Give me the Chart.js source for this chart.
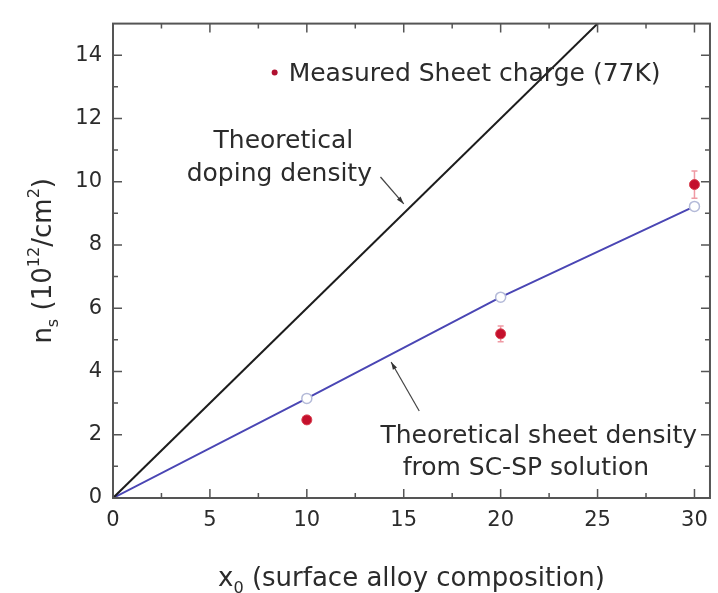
<!DOCTYPE html>
<html lang="en">
<head>
  <meta charset="UTF-8">
  <title>Sheet charge vs surface alloy composition</title>
  <script src="https://cdn.jsdelivr.net/npm/chart.js"></script>
  <style>
    html, body { margin: 0; padding: 0; background: #fff; }
  </style>
</head>
<body>
  <canvas id="viz" width="718" height="593"></canvas>

  <script>
    // tick labels
    const xTicks = [0, 5, 10, 15, 20, 25, 30]
    const yTicks = [0, 2, 4, 6, 8, 10, 12, 14]

    // theoretical sheet density (SC-SP solution)
    const sheetX = [0, 10, 20, 30]
    const sheetNs = [0, 3.15, 6.35, 9.22]

    // theoretical doping density
    const dopingX = [0, 30]
    const dopingNs = [0, 18]

    // measured sheet charge at 77K, with error
    const measuredX = [10, 20, 30]
    const measuredNs = [2.47, 5.19, 9.91]
    const measuredErr = [0.12, 0.25, 0.43]

    const pairs = (xs, ys) => xs.map((x, i) => ({ x, y: ys[i] }))

    const ink = '#2b2b2b'
    const font = 'DejaVu Sans'
    Chart.defaults.font.family = font

    // text runs with sub / superscripts, drawn centered on (cx, baseline)
    function drawRuns(ctx, runs, size, cx, base) {
      const widths = runs.map(r => {
        ctx.font = `${r.sub || r.sup ? size * 0.62 : size}px "${font}"`
        return ctx.measureText(r.t).width
      })
      let x = cx - widths.reduce((a, b) => a + b, 0) / 2
      runs.forEach((r, i) => {
        ctx.font = `${r.sub || r.sup ? size * 0.62 : size}px "${font}"`
        const dy = r.sub ? size * 0.28 : r.sup ? -size * 0.45 : 0
        ctx.fillText(r.t, x, base + dy)
        x += widths[i]
      })
    }

    const notes = [
      { t: 'Theoretical', x: 8.79, y: 11.26 },
      { t: 'doping density', x: 8.58, y: 10.24 },
      { t: 'Theoretical sheet density', x: 21.97, y: 1.94 },
      { t: 'from SC-SP solution', x: 21.3, y: 0.92 }
    ]
    const arrows = [
      { from: [13.8, 10.15], to: [15.0, 9.3] },
      { from: [15.8, 2.75], to: [14.35, 4.3] }
    ]

    const decorations = {
      id: 'decorations',
      beforeDatasetsDraw(chart) {
        const { ctx, scales: { x, y } } = chart
        ctx.save()
        ctx.strokeStyle = '#ef9aa4'
        ctx.lineWidth = 1.5
        measuredX.forEach((v, i) => {
          const px = x.getPixelForValue(v)
          const top = y.getPixelForValue(measuredNs[i] + measuredErr[i])
          const bot = y.getPixelForValue(measuredNs[i] - measuredErr[i])
          ctx.beginPath()
          ctx.moveTo(px, top); ctx.lineTo(px, bot)
          ctx.moveTo(px - 3, top); ctx.lineTo(px + 3, top)
          ctx.moveTo(px - 3, bot); ctx.lineTo(px + 3, bot)
          ctx.stroke()
        })
        ctx.restore()
      },
      afterDatasetsDraw(chart) {
        const { ctx, chartArea: a, scales: { x, y } } = chart
        ctx.save()

        // frame
        ctx.strokeStyle = '#555'
        ctx.lineWidth = 2
        ctx.strokeRect(a.left, a.top, a.right - a.left, a.bottom - a.top)

        // inward ticks on all four sides
        const mids = t => t.slice(1).map((v, i) => (v + t[i]) / 2)
        ctx.lineWidth = 1.5
        ctx.beginPath()
        const xt = [...xTicks.map(v => [v, 9]), ...mids(xTicks).map(v => [v, 5])]
        xt.forEach(([v, len]) => {
          const px = x.getPixelForValue(v)
          ctx.moveTo(px, a.bottom); ctx.lineTo(px, a.bottom - len)
          ctx.moveTo(px, a.top); ctx.lineTo(px, a.top + len)
        })
        const yt = [...yTicks.map(v => [v, 9]), ...mids(yTicks).map(v => [v, 5])]
        yt.forEach(([v, len]) => {
          const py = y.getPixelForValue(v)
          ctx.moveTo(a.left, py); ctx.lineTo(a.left + len, py)
          ctx.moveTo(a.right, py); ctx.lineTo(a.right - len, py)
        })
        ctx.stroke()

        // annotation text
        ctx.fillStyle = ink
        ctx.textAlign = 'center'
        ctx.textBaseline = 'middle'
        ctx.font = `25px "${font}"`
        notes.forEach(n => ctx.fillText(n.t, x.getPixelForValue(n.x), y.getPixelForValue(n.y)))

        // arrows
        ctx.strokeStyle = '#444'
        ctx.fillStyle = '#333'
        ctx.lineWidth = 1.2
        arrows.forEach(ar => {
          const x0 = x.getPixelForValue(ar.from[0]), y0 = y.getPixelForValue(ar.from[1])
          const x1 = x.getPixelForValue(ar.to[0]), y1 = y.getPixelForValue(ar.to[1])
          const ang = Math.atan2(y1 - y0, x1 - x0)
          ctx.beginPath()
          ctx.moveTo(x0, y0); ctx.lineTo(x1, y1)
          ctx.stroke()
          ctx.beginPath()
          ctx.moveTo(x1, y1)
          ctx.lineTo(x1 - 8 * Math.cos(ang - 0.3), y1 - 8 * Math.sin(ang - 0.3))
          ctx.lineTo(x1 - 8 * Math.cos(ang + 0.3), y1 - 8 * Math.sin(ang + 0.3))
          ctx.closePath()
          ctx.fill()
        })

        // legend
        const lx = x.getPixelForValue(8.34), ly = y.getPixelForValue(13.45)
        ctx.fillStyle = '#b01030'
        ctx.beginPath()
        ctx.arc(lx, ly, 3, 0, Math.PI * 2)
        ctx.fill()
        ctx.fillStyle = ink
        ctx.textAlign = 'left'
        ctx.font = `25px "${font}"`
        ctx.fillText(chart.data.datasets[2].label, lx + 14, ly + 2)

        // axis titles
        ctx.textAlign = 'left'
        ctx.textBaseline = 'alphabetic'
        drawRuns(ctx, [{ t: 'x' }, { t: '0', sub: true }, { t: ' (surface alloy composition)' }],
          26, (a.left + a.right) / 2, 586)
        ctx.translate(51, (a.top + a.bottom) / 2)
        ctx.rotate(-Math.PI / 2)
        drawRuns(ctx, [{ t: 'n' }, { t: 's', sub: true }, { t: ' (10' }, { t: '12', sup: true },
          { t: '/cm' }, { t: '2', sup: true }, { t: ')' }], 26, 0, 0)

        ctx.restore()
      }
    }

    new Chart(document.getElementById('viz'), {
      type: 'scatter',
      data: {
        datasets: [
          {
            label: 'Theoretical doping density',
            data: pairs(dopingX, dopingNs),
            showLine: true,
            borderColor: '#1c1c1c',
            borderWidth: 2,
            pointRadius: 0
          },
          {
            label: 'Theoretical sheet density from SC-SP solution',
            data: pairs(sheetX, sheetNs),
            showLine: true,
            borderColor: '#4a46b4',
            borderWidth: 2,
            pointRadius: c => (c.raw && c.raw.x === 0 ? 0 : 5),
            pointBackgroundColor: '#fff',
            pointBorderColor: '#b4bad8',
            pointBorderWidth: 1.5
          },
          {
            label: 'Measured Sheet charge (77K)',
            data: pairs(measuredX, measuredNs),
            pointRadius: 5,
            pointBackgroundColor: '#c4102c',
            pointBorderColor: '#d8404f',
            pointBorderWidth: 1
          }
        ]
      },
      options: {
        responsive: false,
        animation: false,
        layout: { padding: { top: 9, right: 6, left: 0, bottom: 0 } },
        plugins: { legend: { display: false }, tooltip: { enabled: false } },
        scales: {
          x: {
            type: 'linear',
            min: 0,
            max: 30.8,
            grid: { display: false, drawTicks: false },
            border: { display: false },
            ticks: { color: ink, font: { size: 21 }, padding: 10 },
            afterBuildTicks: s => { s.ticks = xTicks.map(v => ({ value: v })) },
            afterFit: s => { s.height = 95 }
          },
          y: {
            min: 0,
            max: 15,
            grid: { display: false, drawTicks: false },
            border: { display: false },
            ticks: { color: ink, font: { size: 21 }, padding: 11 },
            afterBuildTicks: s => { s.ticks = yTicks.map(v => ({ value: v })) },
            afterFit: s => { s.width = 113 }
          }
        }
      },
      plugins: [decorations]
    })
  </script>
</body>
</html>
